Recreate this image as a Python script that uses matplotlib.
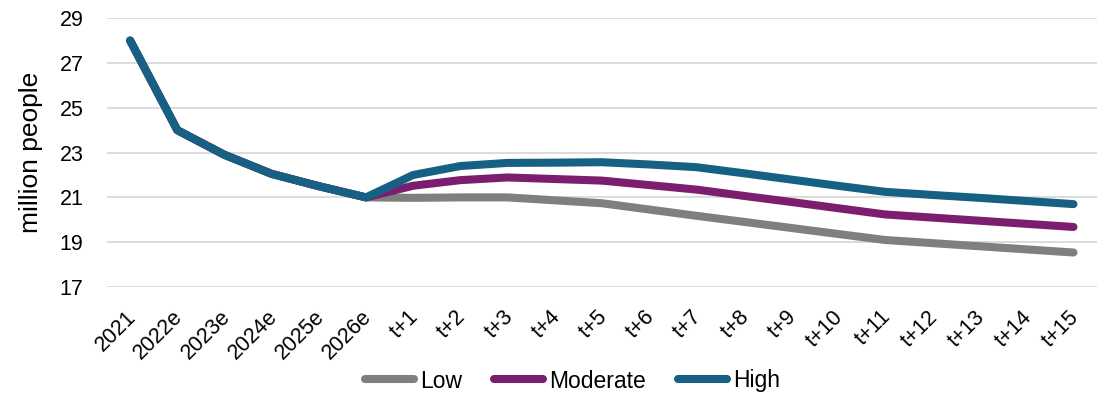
import matplotlib
matplotlib.use("Agg")
import matplotlib.pyplot as plt
from matplotlib.transforms import ScaledTranslation

categories = ["2021", "2022e", "2023e", "2024e", "2025e", "2026e",
              "t+1", "t+2", "t+3", "t+4", "t+5", "t+6", "t+7", "t+8",
              "t+9", "t+10", "t+11", "t+12", "t+13", "t+14", "t+15"]
history = [28.0, 24.0, 22.9, 22.05, 21.5, 21.0]
low = history + [20.98, 21.0, 21.0, 20.87, 20.74, 20.46, 20.18, 19.91,
                 19.64, 19.37, 19.1, 18.96, 18.82, 18.68, 18.54]
moderate = history + [21.52, 21.77, 21.89, 21.82, 21.75, 21.55, 21.35, 21.07,
                      20.8, 20.52, 20.24, 20.1, 19.96, 19.82, 19.68]
high = history + [22.0, 22.4, 22.54, 22.55, 22.57, 22.47, 22.35, 22.08,
                  21.8, 21.52, 21.25, 21.11, 20.98, 20.84, 20.7]
yticks = [17, 19, 21, 23, 25, 27, 29]

plt.rcParams['font.family'] = ['Liberation Sans', 'DejaVu Sans']

fig = plt.figure(figsize=(11.07, 3.95), dpi=100)
ax = fig.add_axes([0.0967, 0.2734, 0.8943, 0.6806])

x = list(range(len(categories)))
lw = 5.8
ax.plot(x, low, color='#7F7F7F', lw=lw, solid_capstyle='round', solid_joinstyle='round', label='Low', zorder=3)
ax.plot(x, moderate, color='#7B1E6D', lw=lw, solid_capstyle='round', solid_joinstyle='round', label='Moderate', zorder=4)
ax.plot(x, high, color='#166083', lw=lw, solid_capstyle='round', solid_joinstyle='round', label='High', zorder=5)

fs = 15.5
ax.set_xlim(-0.49, 20.5)
ax.set_ylim(17, 29)
ax.set_yticks(yticks)
ax.set_yticklabels([str(v) for v in yticks], fontsize=fs)
ax.set_xticks(x)
ax.set_xticklabels(categories, rotation=45, ha='right', rotation_mode='anchor', fontsize=fs)
ax.tick_params(axis='y', length=0, pad=17)
ax.tick_params(axis='x', length=0, pad=14)
shift = ScaledTranslation(-0.05, 0, fig.dpi_scale_trans)
for lab in ax.get_xticklabels():
    lab.set_transform(lab.get_transform() + shift)
ax.grid(axis='y', color='#D9D9D9', lw=1.3, zorder=0)
for s in ax.spines.values():
    s.set_visible(False)
ax.set_ylabel("million people", fontsize=19)
ax.yaxis.set_label_coords(-0.0646, 0.5)

leg = fig.legend(loc='center', bbox_to_anchor=(0.517, 1 - 381 / 395), ncol=3, frameon=False,
                 fontsize=16.5, handlelength=2.15, handletextpad=0.25, columnspacing=1.4)

fig.savefig("out.png", dpi=100)
